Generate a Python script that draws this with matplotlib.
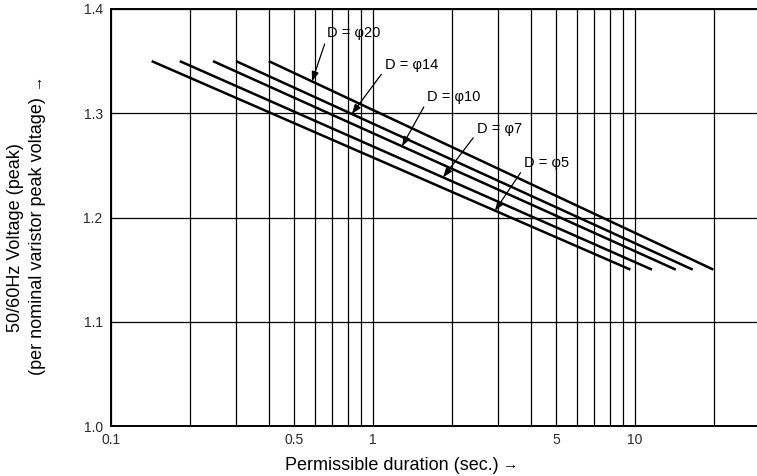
import matplotlib
matplotlib.use("Agg")
import matplotlib.pyplot as plt
from matplotlib.ticker import FixedLocator, FixedFormatter, NullFormatter
import numpy as np

plt.rcParams['font.family'] = ['Liberation Sans', 'DejaVu Sans']

# Varistor element diameters and their permissible-duration lines
diameters = ['φ5', 'φ7', 'φ10', 'φ14', 'φ20']
t_start = [0.143, 0.183, 0.245, 0.30, 0.40]      # seconds
t_end = [9.6, 11.6, 14.3, 16.6, 19.9]            # seconds
v_start = [1.35, 1.35, 1.35, 1.35, 1.35]         # per-unit peak voltage
v_end = [1.15, 1.15, 1.15, 1.15, 1.15]

# Where each label's pointer touches its line (seconds)
pointer_t = [2.92, 1.85, 1.29, 0.83, 0.585]
# Label anchor positions (seconds, per-unit voltage)
label_t = [3.77, 2.49, 1.61, 1.11, 0.667]
label_v = [1.252, 1.285, 1.316, 1.346, 1.377]

x_major = [0.1, 0.5, 1, 5, 10]
x_major_labels = ['0.1', '0.5', '1', '5', '10']
x_minor = [0.2, 0.3, 0.4, 0.6, 0.7, 0.8, 0.9, 2, 3, 4, 6, 7, 8, 9, 20]
y_ticks = [1.0, 1.1, 1.2, 1.3, 1.4]
y_labels = ['1.0', '1.1', '1.2', '1.3', '1.4']

fig = plt.figure(figsize=(7.57, 4.76), dpi=100)
ax = fig.add_axes([111 / 757, 50 / 476, 1 - 111 / 757, (426 - 9) / 476])

ax.set_xscale('log')
ax.set_xlim(0.1, 29.2)
ax.set_ylim(1.0, 1.4)

ax.xaxis.set_major_locator(FixedLocator(x_major))
ax.xaxis.set_major_formatter(FixedFormatter(x_major_labels))
ax.xaxis.set_minor_locator(FixedLocator(x_minor))
ax.xaxis.set_minor_formatter(NullFormatter())
ax.yaxis.set_major_locator(FixedLocator(y_ticks))
ax.yaxis.set_major_formatter(FixedFormatter(y_labels))

ax.tick_params(which='both', length=0, labelsize=10, colors='#2a2a2a')
ax.tick_params(axis='x', pad=5)
ax.tick_params(axis='y', pad=6)

ax.grid(True, which='both', axis='x', color='black', linewidth=0.9)
ax.grid(True, which='major', axis='y', color='black', linewidth=0.9)
ax.set_axisbelow(True)

for side in ['left', 'bottom', 'top']:
    ax.spines[side].set_linewidth(1.4)
    ax.spines[side].set_color('black')
ax.spines['right'].set_visible(False)

lines = []
for ts, te, vs, ve in zip(t_start, t_end, v_start, v_end):
    ax.plot([ts, te], [vs, ve], color='black', linewidth=1.8,
            solid_capstyle='butt', zorder=3)
    lines.append((ts, te, vs, ve))

# Labels with pointers landing on their own line
for name, (ts, te, vs, ve), pt, lt, lv in zip(diameters, lines, pointer_t,
                                            label_t, label_v):
    frac = (np.log10(pt) - np.log10(ts)) / (np.log10(te) - np.log10(ts))
    pv = vs + frac * (ve - vs)
    ax.annotate('D = ' + name, xy=(pt, pv), xytext=(lt, lv),
                ha='left', va='center', fontsize=10.5, color='black',
                arrowprops=dict(arrowstyle='-|>,head_length=0.55,head_width=0.2',
                                color='black', linewidth=0.9,
                                shrinkA=1, shrinkB=0, relpos=(0.0, 0.2)),
                zorder=4)

fig.text(392 / 757, 1 - 466 / 476, 'Permissible duration (sec.)',
         ha='center', va='center', fontsize=13)
fig.text(511 / 757, 1 - 465 / 476, '→', ha='center', va='center', fontsize=11)

fig.text(16 / 757, 1 - 238 / 476, '50/60Hz Voltage (peak)', rotation=90,
         ha='center', va='center', fontsize=13)
fig.text(38 / 757, 1 - 236 / 476, '(per nominal varistor peak voltage)',
         rotation=90, ha='center', va='center', fontsize=13)
fig.text(36 / 757, 1 - 80 / 476, '→', rotation=90,
         ha='center', va='center', fontsize=11)

fig.savefig('out.png', dpi=100)
